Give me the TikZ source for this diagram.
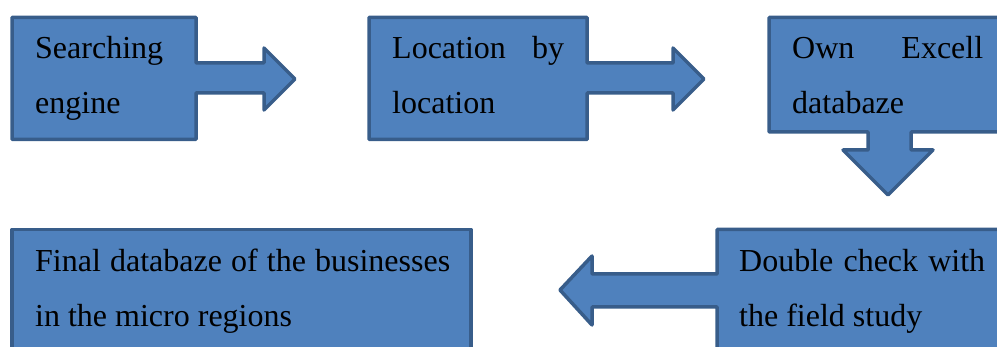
\documentclass[tikz,border=0pt]{standalone}
\usepackage{fontspec}
\setmainfont{Liberation Serif}
\usepackage{xcolor}
\usepackage{tikz}
\definecolor{CajaAzul}{RGB}{79,129,189}
\definecolor{CajaBorde}{RGB}{56,93,138}
\hyphenpenalty=10000
\exhyphenpenalty=10000
\tolerance=10000
\tikzset{
  callout/.style={draw=CajaBorde,fill=CajaAzul,line width=3.5pt,line join=round},
  boxtext/.style={anchor=base west,inner sep=0pt,align=justify,font=\fontsize{32}{55}\selectfont}
}

\begin{document}
\begin{tikzpicture}[x=1pt,y=-1pt]
  \useasboundingbox (0,0) rectangle (997,347);
  \clip (0,0) rectangle (997,347);

  % Caja 1
  \draw[callout] (12,17.5) -- (196,17.5) -- (196,63) -- (264,63) -- (264,48) -- (295,79)
    -- (264,110) -- (264,93) -- (196,93) -- (196,139.5) -- (12,139.5) -- cycle;
  \node[boxtext,text width=140] (searching) at (35,59) {Searching engine};

  % Caja 2
  \draw[callout] (369,17.5) -- (587,17.5) -- (587,63) -- (673,63) -- (673,48) -- (704,79)
    -- (673,110) -- (673,93) -- (587,93) -- (587,139.5) -- (369,139.5) -- cycle;
  \node[boxtext,text width=172] (location) at (392,59) {Location by location};

  % Caja 3
  \draw[callout] (769,17.5) -- (1010,17.5) -- (1010,132) -- (911,132) -- (911,150) -- (933,150)
    -- (888,195) -- (843,150) -- (868,150) -- (868,132) -- (769,132) -- cycle;
  \node[boxtext,text width=191] (excell) at (792,59) {Own Excell databaze};

  % Caja 4
  \draw[callout] (717,229.5) -- (1010,229.5) -- (1010,360) -- (717,360) -- (717,307) -- (592,307)
    -- (592,325) -- (560,290) -- (592,256) -- (592,274) -- (717,274) -- cycle;
  \node[boxtext,text width=246] (check) at (739,272) {Double check with the field study};

  % Caja 5
  \draw[callout] (12,229.5) rectangle (471,360);
  \node[boxtext,text width=415] (final) at (35,272) {Final databaze of the businesses in the micro regions};
\end{tikzpicture}
\end{document}
